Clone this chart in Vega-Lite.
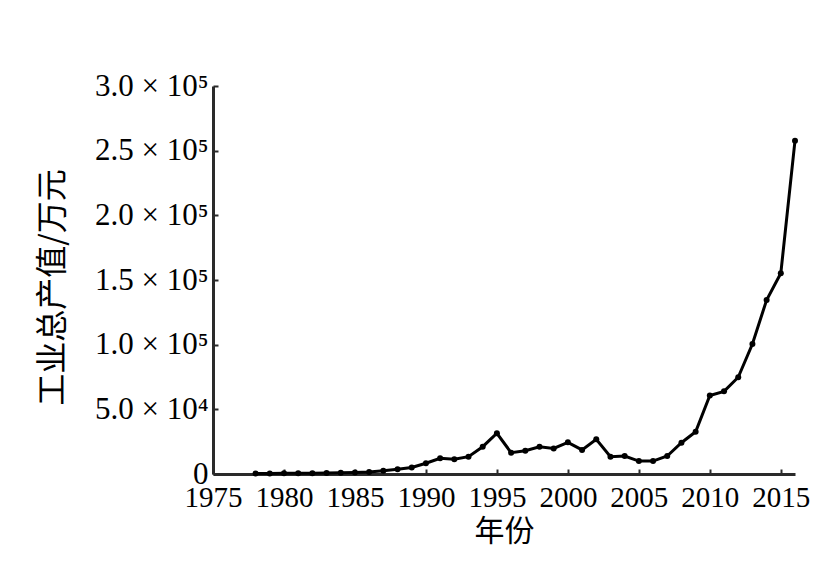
{
  "$schema": "https://vega.github.io/schema/vega-lite/v6.json",
  "width": 582,
  "height": 388,
  "autosize": {"type": "none"},
  "padding": {"left": 213, "top": 86, "right": 45, "bottom": 113},
  "background": "white",
  "config": {"view": {"stroke": null}},
  "data": {
    "values": [
      {"year": 1978, "value": 300},
      {"year": 1979, "value": 400},
      {"year": 1980, "value": 500},
      {"year": 1981, "value": 500},
      {"year": 1982, "value": 600},
      {"year": 1983, "value": 700},
      {"year": 1984, "value": 900},
      {"year": 1985, "value": 1100},
      {"year": 1986, "value": 1500},
      {"year": 1987, "value": 2500},
      {"year": 1988, "value": 3600},
      {"year": 1989, "value": 5000},
      {"year": 1990, "value": 8300},
      {"year": 1991, "value": 12100},
      {"year": 1992, "value": 11400},
      {"year": 1993, "value": 13400},
      {"year": 1994, "value": 21100},
      {"year": 1995, "value": 31500},
      {"year": 1996, "value": 16500},
      {"year": 1997, "value": 18000},
      {"year": 1998, "value": 21100},
      {"year": 1999, "value": 19800},
      {"year": 2000, "value": 24500},
      {"year": 2001, "value": 18600},
      {"year": 2002, "value": 26800},
      {"year": 2003, "value": 13400},
      {"year": 2004, "value": 13900},
      {"year": 2005, "value": 10000},
      {"year": 2006, "value": 10000},
      {"year": 2007, "value": 13900},
      {"year": 2008, "value": 24200},
      {"year": 2009, "value": 32700},
      {"year": 2010, "value": 60700},
      {"year": 2011, "value": 63900},
      {"year": 2012, "value": 74800},
      {"year": 2013, "value": 100500},
      {"year": 2014, "value": 134500},
      {"year": 2015, "value": 155200},
      {"year": 2016, "value": 257700}
    ]
  },
  "mark": {"type": "line", "color": "black", "strokeWidth": 3, "point": {"filled": true, "color": "black", "size": 36}},
  "encoding": {
    "x": {
      "field": "year",
      "type": "quantitative",
      "scale": {"domain": [1975, 2016], "nice": false, "zero": false},
      "axis": {
        "title": "年份",
        "titleFont": "Noto Sans CJK SC",
        "titleFontSize": 30,
        "titleFontWeight": "normal",
        "titleColor": "black",
        "titlePadding": 4,
        "values": [1975, 1980, 1985, 1990, 1995, 2000, 2005, 2010, 2015],
        "format": "d",
        "labelFont": "Liberation Serif",
        "labelFontSize": 29,
        "labelColor": "black",
        "labelPadding": 14,
        "labelOverlap": false,
        "labelFlush": false,
        "grid": false,
        "domainColor": "#2a2a2a",
        "domainWidth": 3,
        "tickColor": "#2a2a2a",
        "tickWidth": 2,
        "tickSize": -5
      }
    },
    "y": {
      "field": "value",
      "type": "quantitative",
      "scale": {"domain": [0, 300000], "nice": false},
      "axis": {
        "title": "工业总产值/万元",
        "titleFont": "Noto Sans CJK SC",
        "titleFontSize": 32,
        "titleFontWeight": "normal",
        "titleColor": "black",
        "titleX": -161,
        "titleY": 201,
        "titleAlign": "center",
        "titleBaseline": "middle",
        "values": [0, 50000, 100000, 150000, 200000, 250000, 300000],
        "labelExpr": "datum.value == 0 ? '0' : (datum.value < 100000 ? format(datum.value/10000, '.1f') + ' × 10⁴' : format(datum.value/100000, '.1f') + ' × 10⁵')",
        "labelFont": "Liberation Serif",
        "labelFontSize": 31,
        "labelColor": "black",
        "labelPadding": 10,
        "labelOverlap": false,
        "labelFlush": false,
        "grid": false,
        "domainColor": "#2a2a2a",
        "domainWidth": 3,
        "tickColor": "#2a2a2a",
        "tickWidth": 2,
        "tickSize": -5
      }
    }
  }
}
